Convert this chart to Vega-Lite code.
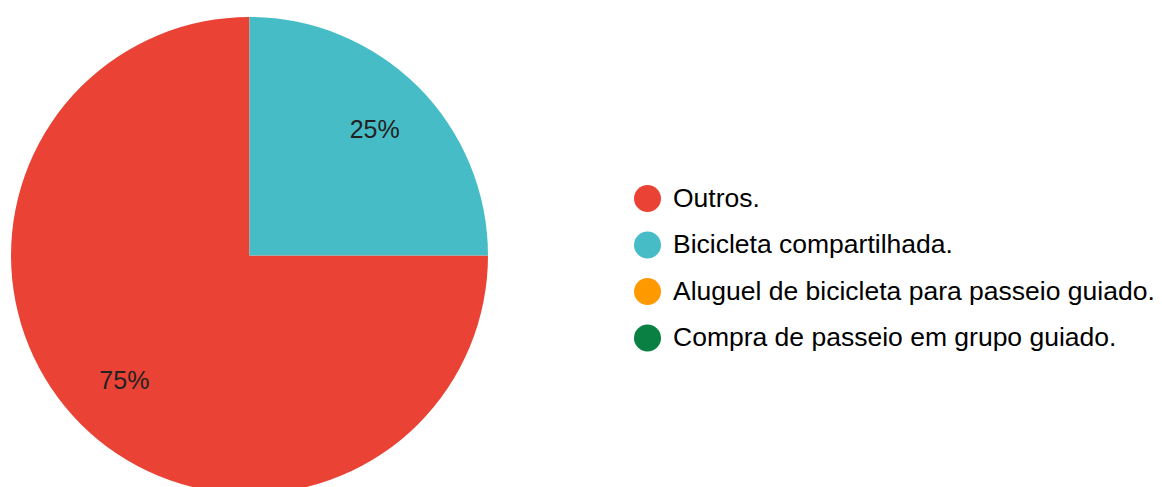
{
  "$schema": "https://vega.github.io/schema/vega-lite/v6.json",
  "width": 477,
  "height": 477,
  "autosize": {"type": "none"},
  "padding": {"left": 11, "top": 17, "right": 674, "bottom": 0},
  "background": "white",
  "config": {"view": {"stroke": null}},
  "data": {
    "values": [
      {"category": "Outros.", "value": 75, "label": "75%", "ord": 2},
      {"category": "Bicicleta compartilhada.", "value": 25, "label": "25%", "ord": 1},
      {"category": "Aluguel de bicicleta para passeio guiado.", "value": 0, "label": "0%", "ord": 3},
      {"category": "Compra de passeio em grupo guiado.", "value": 0, "label": "0%", "ord": 4}
    ]
  },
  "encoding": {
    "theta": {"field": "value", "type": "quantitative", "stack": true},
    "order": {"field": "ord", "type": "quantitative"}
  },
  "layer": [
    {
      "mark": {"type": "arc", "stroke": null},
      "encoding": {
        "color": {
          "field": "category",
          "type": "nominal",
          "scale": {
            "domain": ["Outros.", "Bicicleta compartilhada.", "Aluguel de bicicleta para passeio guiado.", "Compra de passeio em grupo guiado."],
            "range": ["#EA4335", "#46BDC6", "#FF9900", "#0B8043"]
          },
          "legend": {
            "title": null,
            "orient": "none",
            "legendX": 623,
            "legendY": 168,
            "padding": 0,
            "symbolType": "circle",
            "symbolSize": 729,
            "symbolStrokeWidth": 0,
            "symbolOpacity": 1,
            "labelFont": "Liberation Sans",
            "labelFontSize": 26.5,
            "labelColor": "#000000",
            "labelLimit": 1000,
            "labelOffset": 12,
            "rowPadding": 19.5
          }
        }
      }
    },
    {
      "transform": [{"filter": "datum.value > 0"}],
      "mark": {"type": "text", "radius": 177, "font": "Liberation Sans", "fontSize": 25, "fill": "#222222", "align": "center", "baseline": "middle"},
      "encoding": {
        "text": {"field": "label", "type": "nominal"}
      }
    }
  ]
}
